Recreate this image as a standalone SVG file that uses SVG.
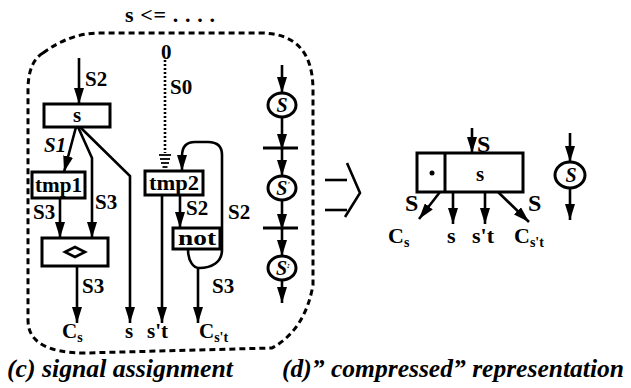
<svg xmlns="http://www.w3.org/2000/svg" width="631" height="388" viewBox="0 0 631 388" font-family="'Liberation Serif', 'DejaVu Serif', serif">
<style>
text{font-family:"Liberation Serif","DejaVu Serif",serif;font-weight:bold;fill:#000}
.lbl{font-size:21px}
.big{font-size:24px}
.box{fill:#fff;stroke:#000;stroke-width:3}
.ln{fill:none;stroke:#000;stroke-width:2.6}
.cap{font-size:25px;font-style:italic}
.mid{text-anchor:middle}
.bx{font-size:20px}
</style>
<defs>
<marker id="a" markerUnits="userSpaceOnUse" markerWidth="16" markerHeight="10" viewBox="0 0 16 10" refX="16" refY="5" orient="auto">
<path d="M0,0 L16,5 L0,10 z" fill="#000"/>
</marker>
</defs>
<rect width="631" height="388" fill="#fff"/>

<text x="125" y="22" style="font-size:22px" textLength="90" lengthAdjust="spacing">s &lt;= . . . .</text>
<path id="boundary" d="M43,53 Q70,33 100,33 L260,33 Q313,33 313,90 L313,285 Q305,330 272,348 L85,353 Q28,353 28,320 L28,90 Q28,62 43,53" fill="none" stroke="#000" stroke-width="3" stroke-dasharray="6,4"/>

<g id="connectors">
<line class="ln" x1="79" y1="58" x2="79" y2="104" marker-end="url(#a)"/>
<line class="ln" x1="76" y1="127" x2="64" y2="172" marker-end="url(#a)"/>
<polyline class="ln" points="78,127 92,158 92,238" marker-end="url(#a)"/>
<polyline class="ln" points="80,127 130,176 130,323" marker-end="url(#a)"/>
<line class="ln" x1="60" y1="198" x2="60" y2="238" marker-end="url(#a)"/>
<line class="ln" x1="77" y1="266" x2="77" y2="323" marker-end="url(#a)"/>
<line x1="165" y1="60" x2="165" y2="153" stroke="#000" stroke-width="2.6" stroke-dasharray="2,2"/>
<g stroke="#000" stroke-width="1.8">
<line x1="159" y1="155" x2="171" y2="155"/>
<line x1="160" y1="159" x2="170" y2="159"/>
<line x1="161" y1="163" x2="169" y2="163"/>
<line x1="162.5" y1="167" x2="167.5" y2="167"/>
</g>
<line class="ln" x1="162" y1="195" x2="162" y2="323" marker-end="url(#a)"/>
<line class="ln" x1="180" y1="195" x2="180" y2="228" marker-end="url(#a)"/>
<path class="ln" d="M188,249 C188,262 194,268 199,268 C212,268 222,262 222,250 L222,155 Q222,142 208,142 L195,142 Q182,142 182,156 L182,171" marker-end="url(#a)"/>
<line class="ln" x1="198" y1="268" x2="198" y2="323" marker-end="url(#a)"/>
<line class="ln" x1="282" y1="65" x2="282" y2="93" marker-end="url(#a)"/>
<line class="ln" x1="282" y1="117" x2="282" y2="150" marker-end="url(#a)"/>
<line class="ln" x1="282" y1="148" x2="282" y2="176" marker-end="url(#a)"/>
<line class="ln" x1="282" y1="200" x2="282" y2="230" marker-end="url(#a)"/>
<line class="ln" x1="282" y1="228" x2="282" y2="256" marker-end="url(#a)"/>
<line class="ln" x1="282" y1="280" x2="282" y2="303" marker-end="url(#a)"/>
<line x1="263" y1="148" x2="298" y2="148" stroke="#000" stroke-width="3"/>
<line x1="263" y1="228" x2="298" y2="228" stroke="#000" stroke-width="3"/>
<line class="ln" x1="472" y1="128" x2="472" y2="153" marker-end="url(#a)"/>
<line class="ln" x1="440" y1="192" x2="419" y2="219" marker-end="url(#a)"/>
<line class="ln" x1="453" y1="192" x2="453" y2="224" marker-end="url(#a)"/>
<line class="ln" x1="485" y1="192" x2="485" y2="224" marker-end="url(#a)"/>
<line class="ln" x1="498" y1="192" x2="529" y2="222" marker-end="url(#a)"/>
<line class="ln" x1="570" y1="133" x2="570" y2="162" marker-end="url(#a)"/>
<line class="ln" x1="570" y1="188" x2="570" y2="220" marker-end="url(#a)"/>
</g>

<g id="node-s">
<rect class="box" x="44" y="104" width="66" height="23"/>
<text class="lbl mid" x="77" y="122">s</text>
</g>
<g id="node-tmp1">
<rect class="box" x="32" y="172" width="53" height="26"/>
<text class="bx mid" x="58.5" y="192" textLength="47" lengthAdjust="spacingAndGlyphs">tmp1</text>
</g>
<g id="node-ne">
<rect class="box" x="42" y="238" width="66" height="28"/>
<polygon points="65,252 75,247 85,252 75,257" fill="#fff" stroke="#000" stroke-width="2.6"/>
</g>
<g id="node-tmp2">
<rect class="box" x="145" y="171" width="58" height="24"/>
<text class="bx mid" x="174" y="190" textLength="50" lengthAdjust="spacingAndGlyphs">tmp2</text>
</g>
<g id="node-not">
<rect class="box" x="173" y="228" width="47" height="21"/>
<text class="bx mid" x="197" y="245" textLength="38" lengthAdjust="spacingAndGlyphs">not</text>
</g>
<g id="node-S-1">
<ellipse cx="282" cy="105" rx="14" ry="12" class="box"/>
<text class="mid" x="282" y="112" font-style="italic" font-size="20">S</text>
</g>
<g id="node-S-2">
<ellipse cx="282" cy="188" rx="14" ry="12" class="box"/>
<text class="mid" x="283" y="195" font-style="italic" font-size="20">S<tspan font-size="9" dy="-7">'</tspan></text>
</g>
<g id="node-S-3">
<ellipse cx="282" cy="268" rx="14" ry="12" class="box"/>
<text class="mid" x="283" y="275" font-style="italic" font-size="20">S<tspan font-size="9" dy="-7">:</tspan></text>
</g>

<g id="labels-c" class="lbl">
<text class="lbl" x="85" y="86">S2</text>
<text class="lbl" x="170" y="94">S0</text>
<text class="lbl" x="161" y="59">0</text>
<text class="lbl" x="44" y="152" font-style="italic">S1</text>
<text class="lbl" x="95" y="209">S3</text>
<text class="lbl" x="33" y="219">S3</text>
<text class="lbl" x="82" y="293">S3</text>
<text class="lbl" x="186" y="215">S2</text>
<text class="lbl" x="228" y="219">S2</text>
<text class="lbl" x="212" y="293">S3</text>
<text class="lbl" x="62" y="338">C<tspan font-size="14" dy="4">s</tspan></text>
<text class="lbl" x="125" y="338">s</text>
<text class="lbl" x="147" y="338">s't</text>
<text class="lbl" x="199" y="338">C<tspan font-size="14" dy="4">s't</tspan></text>
</g>

<g id="implies" stroke="#000" stroke-width="2.6" fill="none">
<line x1="325" y1="180" x2="347" y2="180"/>
<line x1="325" y1="210" x2="347" y2="210"/>
<polyline points="347,163 360,193 345,217"/>
</g>

<g id="node-compressed">
<rect class="box" x="417" y="153" width="106" height="39"/>
<line x1="445" y1="153" x2="445" y2="192" stroke="#000" stroke-width="3"/>
<circle cx="432" cy="173" r="2.5" fill="#000"/>
<text class="lbl mid" x="480" y="181">s</text>
</g>
<g id="node-S-d">
<ellipse cx="570" cy="175" rx="15" ry="13" class="box"/>
<text class="mid" x="571" y="182" font-style="italic" font-size="20">S</text>
</g>
<g id="labels-d">
<text class="big" x="477" y="152">S</text>
<text class="big" x="405" y="211">S</text>
<text class="big" x="528" y="211">S</text>
<text x="388" y="243" style="font-size:22px">C<tspan font-size="14" dy="4">s</tspan></text>
<text x="447" y="243" style="font-size:22px">s</text>
<text x="472" y="243" style="font-size:22px">s't</text>
<text x="514" y="243" style="font-size:22px">C<tspan font-size="14" dy="4">s't</tspan></text>
</g>

<text class="cap" x="7" y="377" textLength="226" lengthAdjust="spacingAndGlyphs">(c) signal assignment</text>
<text class="cap" x="282" y="377" textLength="342" lengthAdjust="spacingAndGlyphs">(d)” compressed”  representation</text>
</svg>
